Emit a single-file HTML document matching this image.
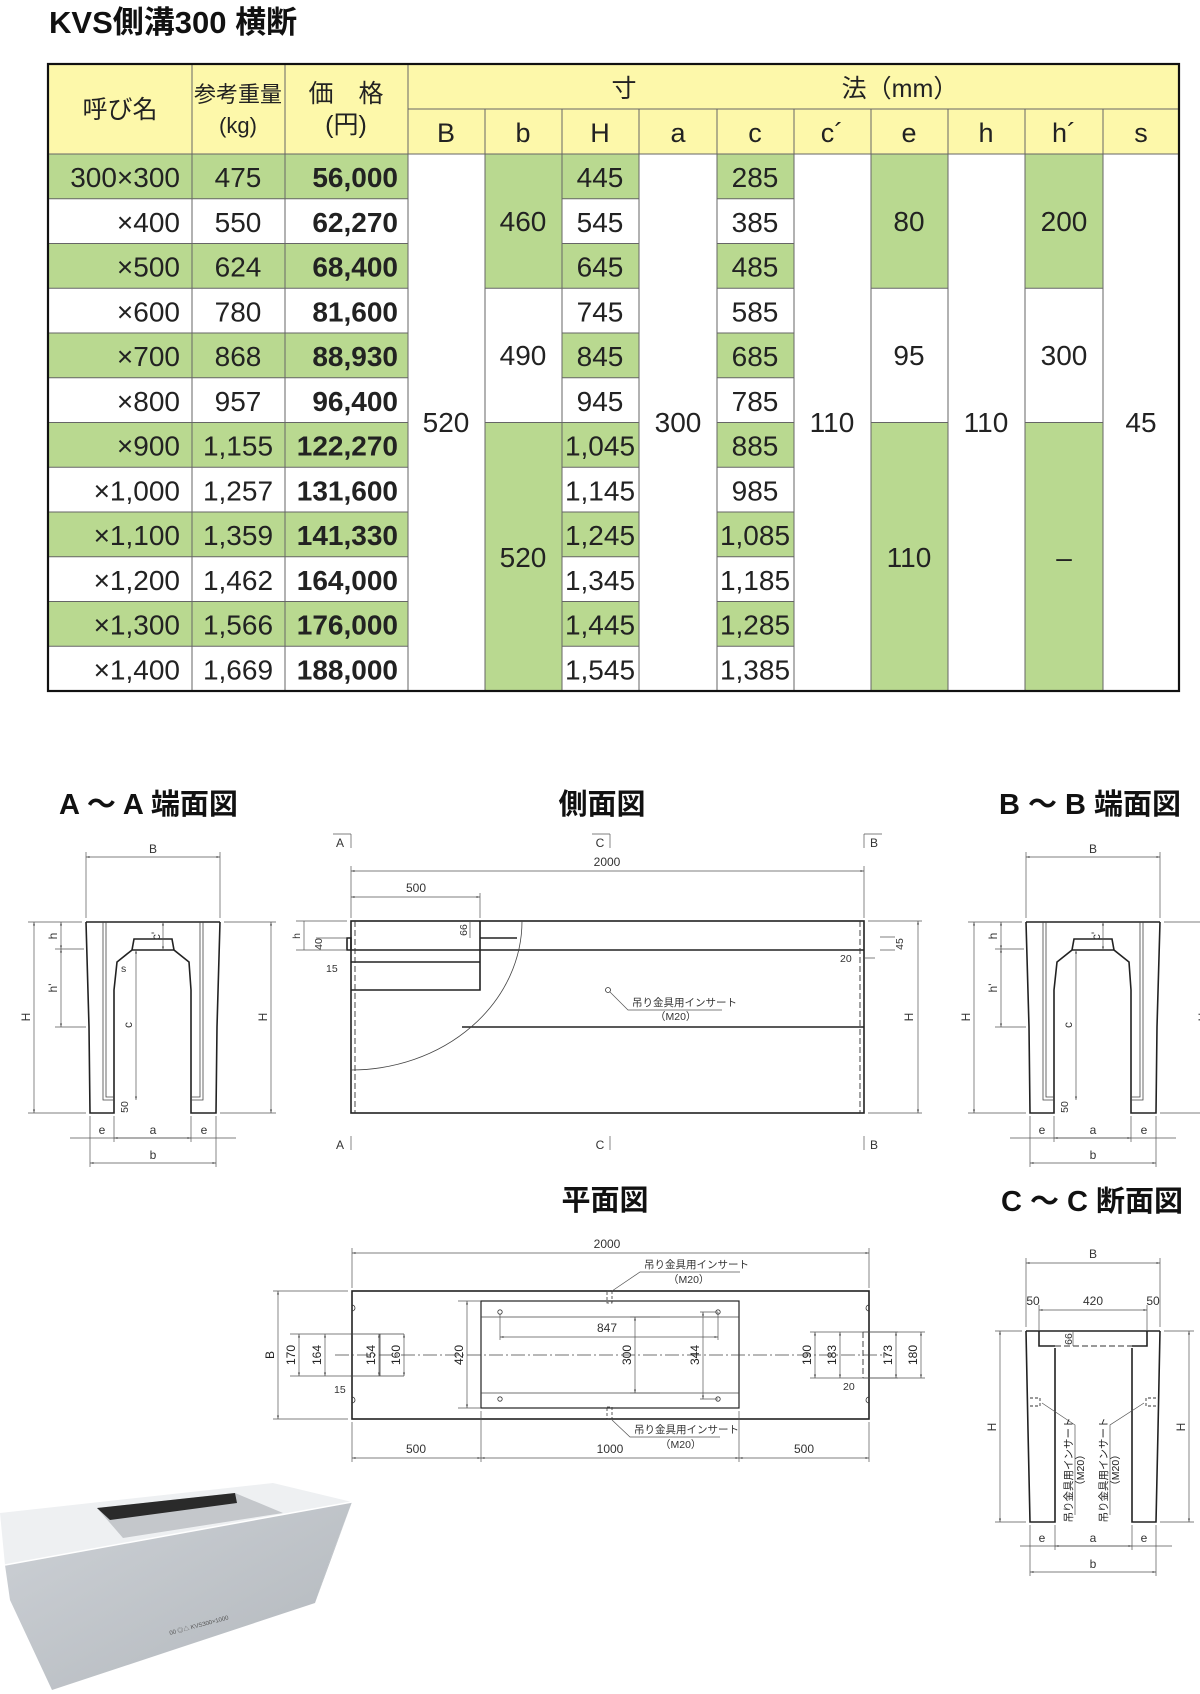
<!DOCTYPE html>
<html><head><meta charset="utf-8"><style>
html,body{margin:0;padding:0;background:#fff;}
svg{display:block;}
text{font-family:"Liberation Sans","Noto Sans CJK JP",sans-serif;fill:#222;}
.t{font-size:28px;}
.tb{font-size:28px;font-weight:bold;fill:#111;}
.h{font-size:22px;}
.ttl{font-size:29px;font-weight:bold;fill:#111;}
.d{font-size:12px;fill:#333;}
.s{font-size:10.5px;fill:#333;}
.ln{stroke:#222;stroke-width:1.6;fill:none;}
.thin{stroke:#444;stroke-width:0.8;fill:none;}
.dim{stroke:#555;stroke-width:0.7;fill:none;}
.dash{stroke:#333;stroke-width:0.9;fill:none;stroke-dasharray:6 3;}
.cl{stroke:#444;stroke-width:0.8;fill:none;stroke-dasharray:14 3 2 3;}
</style></head><body>
<svg width="1200" height="1694" viewBox="0 0 1200 1694" xmlns="http://www.w3.org/2000/svg">
<defs>
<marker id="a" viewBox="0 0 10 10" refX="10" refY="5" markerWidth="7" markerHeight="5" orient="auto-start-reverse"><path d="M0,2 L10,5 L0,8 z" fill="#555"/></marker>
</defs>
<text x="49" y="33" style="font-size:31px;font-weight:bold;fill:#111">KVS側溝300  横断</text>

<!-- TABLE -->
<rect x="48" y="64" width="1131" height="90" fill="#fdf8aa"/>
<g fill="#b9d990">
<rect x="48" y="154" width="360" height="44.75"/><rect x="48" y="243.5" width="360" height="44.75"/><rect x="48" y="333" width="360" height="44.75"/><rect x="48" y="422.5" width="360" height="44.75"/><rect x="48" y="512" width="360" height="44.75"/><rect x="48" y="601.5" width="360" height="44.75"/>
<rect x="562" y="154" width="77" height="44.75"/><rect x="562" y="243.5" width="77" height="44.75"/><rect x="562" y="333" width="77" height="44.75"/><rect x="562" y="422.5" width="77" height="44.75"/><rect x="562" y="512" width="77" height="44.75"/><rect x="562" y="601.5" width="77" height="44.75"/>
<rect x="717" y="154" width="77" height="44.75"/><rect x="717" y="243.5" width="77" height="44.75"/><rect x="717" y="333" width="77" height="44.75"/><rect x="717" y="422.5" width="77" height="44.75"/><rect x="717" y="512" width="77" height="44.75"/><rect x="717" y="601.5" width="77" height="44.75"/>
<rect x="485" y="154" width="77" height="134.25"/><rect x="485" y="422.5" width="77" height="268.5"/>
<rect x="871" y="154" width="77" height="134.25"/><rect x="871" y="422.5" width="77" height="268.5"/>
<rect x="1025" y="154" width="78" height="134.25"/><rect x="1025" y="422.5" width="78" height="268.5"/>
</g>
<g stroke="#666" stroke-width="1">
<line x1="408" y1="109" x2="1179" y2="109"/>
<line x1="48" y1="154" x2="1179" y2="154"/>
<path d="M48 198.75H408M48 243.5H408M48 288.25H408M48 333H408M48 377.75H408M48 422.5H408M48 467.25H408M48 512H408M48 556.75H408M48 601.5H408M48 646.25H408"/>
<path d="M562 198.75H639M562 243.5H639M562 288.25H639M562 333H639M562 377.75H639M562 422.5H639M562 467.25H639M562 512H639M562 556.75H639M562 601.5H639M562 646.25H639"/>
<path d="M717 198.75H794M717 243.5H794M717 288.25H794M717 333H794M717 377.75H794M717 422.5H794M717 467.25H794M717 512H794M717 556.75H794M717 601.5H794M717 646.25H794"/>
<path d="M485 288.25H562M485 422.5H562M871 288.25H948M871 422.5H948M1025 288.25H1103M1025 422.5H1103"/>
<path d="M192 64V691M285 64V691M408 64V691M485 109V691M562 109V691M639 109V691M717 109V691M794 109V691M871 109V691M948 109V691M1025 109V691M1103 109V691"/>
</g>
<rect x="48" y="64" width="1131" height="627" fill="none" stroke="#111" stroke-width="2.2"/>
<text class="h" x="120" y="118" text-anchor="middle" style="font-size:25px">呼び名</text>
<text class="h" x="238" y="102" text-anchor="middle">参考重量</text>
<text class="h" x="238" y="133" text-anchor="middle">(kg)</text>
<text class="h" x="346" y="102" text-anchor="middle" style="font-size:25px">価　格</text>
<text class="h" x="346" y="133" text-anchor="middle" style="font-size:25px">(円)</text>
<text class="h" x="624" y="97" text-anchor="middle" style="font-size:25px">寸</text>
<text class="h" x="900" y="97" text-anchor="middle" style="font-size:25px">法（mm）</text>
<g class="t" text-anchor="middle" style="font-size:27px">
<text x="446" y="142">B</text><text x="523" y="142">b</text><text x="600" y="142">H</text><text x="678" y="142">a</text><text x="755" y="142">c</text><text x="832" y="142">c´</text><text x="909" y="142">e</text><text x="986" y="142">h</text><text x="1064" y="142">h´</text><text x="1141" y="142">s</text>
</g>
<g class="t" text-anchor="end">
<text x="180" y="187">300×300</text><text x="180" y="231.75">×400</text><text x="180" y="276.5">×500</text><text x="180" y="321.25">×600</text><text x="180" y="366">×700</text><text x="180" y="410.75">×800</text><text x="180" y="455.5">×900</text><text x="180" y="500.25">×1,000</text><text x="180" y="545">×1,100</text><text x="180" y="589.75">×1,200</text><text x="180" y="634.5">×1,300</text><text x="180" y="679.25">×1,400</text>
</g>
<g class="t" text-anchor="middle">
<text x="238" y="187">475</text><text x="238" y="231.75">550</text><text x="238" y="276.5">624</text><text x="238" y="321.25">780</text><text x="238" y="366">868</text><text x="238" y="410.75">957</text><text x="238" y="455.5">1,155</text><text x="238" y="500.25">1,257</text><text x="238" y="545">1,359</text><text x="238" y="589.75">1,462</text><text x="238" y="634.5">1,566</text><text x="238" y="679.25">1,669</text>
<text x="600" y="187">445</text><text x="600" y="231.75">545</text><text x="600" y="276.5">645</text><text x="600" y="321.25">745</text><text x="600" y="366">845</text><text x="600" y="410.75">945</text><text x="600" y="455.5">1,045</text><text x="600" y="500.25">1,145</text><text x="600" y="545">1,245</text><text x="600" y="589.75">1,345</text><text x="600" y="634.5">1,445</text><text x="600" y="679.25">1,545</text>
<text x="755" y="187">285</text><text x="755" y="231.75">385</text><text x="755" y="276.5">485</text><text x="755" y="321.25">585</text><text x="755" y="366">685</text><text x="755" y="410.75">785</text><text x="755" y="455.5">885</text><text x="755" y="500.25">985</text><text x="755" y="545">1,085</text><text x="755" y="589.75">1,185</text><text x="755" y="634.5">1,285</text><text x="755" y="679.25">1,385</text>
<text x="446" y="432">520</text><text x="678" y="432">300</text><text x="832" y="432">110</text><text x="986" y="432">110</text><text x="1141" y="432">45</text>
<text x="523" y="231">460</text><text x="523" y="365">490</text><text x="523" y="567">520</text>
<text x="909" y="231">80</text><text x="909" y="365">95</text><text x="909" y="567">110</text>
<text x="1064" y="231">200</text><text x="1064" y="365">300</text><text x="1064" y="567">–</text>
</g>
<g class="tb" text-anchor="end">
<text x="398" y="187">56,000</text><text x="398" y="231.75">62,270</text><text x="398" y="276.5">68,400</text><text x="398" y="321.25">81,600</text><text x="398" y="366">88,930</text><text x="398" y="410.75">96,400</text><text x="398" y="455.5">122,270</text><text x="398" y="500.25">131,600</text><text x="398" y="545">141,330</text><text x="398" y="589.75">164,000</text><text x="398" y="634.5">176,000</text><text x="398" y="679.25">188,000</text>
</g>

<!-- TITLES -->
<text class="ttl" x="59" y="814">A ～ A 端面図</text>
<text class="ttl" x="602" y="814" text-anchor="middle">側面図</text>
<text class="ttl" x="999" y="814">B ～ B 端面図</text>
<text class="ttl" x="605" y="1210" text-anchor="middle">平面図</text>
<text class="ttl" x="1001" y="1211">C ～ C 断面図</text>

<!-- A-A END VIEW -->
<g>
<path class="ln" d="M86 922H220M86 922L89 1027L90 1113H114V990L117 962L132 950L134 939H172L174 950L189 962L191 990V1113H216L217 1027L220 922M132 950H174"/>
<path class="thin" d="M103 922V1100H114M106 922V1097H114M203 922V1100H191M200 922V1097H191"/>
<path class="dim" d="M86 852V918M220 852V918M28 922H82M224 922H276M28 1113H86M220 1113H276M55 949H84M55 1027H86M90 1116V1142M114 1116V1142M191 1116V1142M216 1116V1167M90 1142V1167"/>
<line class="dim" x1="86" y1="857" x2="220" y2="857" marker-start="url(#a)" marker-end="url(#a)"/>
<line class="dim" x1="34" y1="922" x2="34" y2="1113" marker-start="url(#a)" marker-end="url(#a)"/>
<line class="dim" x1="271" y1="922" x2="271" y2="1113" marker-start="url(#a)" marker-end="url(#a)"/>
<line class="dim" x1="61" y1="922" x2="61" y2="949" marker-start="url(#a)" marker-end="url(#a)"/>
<line class="dim" x1="61" y1="949" x2="61" y2="1027" marker-start="url(#a)" marker-end="url(#a)"/>
<line class="dim" x1="136" y1="950" x2="136" y2="1100" marker-start="url(#a)" marker-end="url(#a)"/>
<line class="dim" x1="163" y1="922" x2="163" y2="950" marker-start="url(#a)" marker-end="url(#a)"/>
<path class="dim" d="M70 1138H236"/>
<line class="dim" x1="114" y1="1138" x2="191" y2="1138" marker-start="url(#a)" marker-end="url(#a)"/>
<line class="dim" x1="90" y1="1163" x2="216" y2="1163" marker-start="url(#a)" marker-end="url(#a)"/>
<text class="d" x="153" y="853" text-anchor="middle">B</text>
<text class="d" transform="translate(30 1017) rotate(-90)" text-anchor="middle">H</text>
<text class="d" transform="translate(267 1017) rotate(-90)" text-anchor="middle">H</text>
<text class="d" transform="translate(57 936) rotate(-90)" text-anchor="middle">h</text>
<text class="d" transform="translate(57 988) rotate(-90)" text-anchor="middle">h'</text>
<text class="d" transform="translate(132 1025) rotate(-90)" text-anchor="middle">c</text>
<text class="d" transform="translate(160 936) rotate(-90)" text-anchor="middle">c'</text>
<text class="s" x="121" y="972">s</text>
<text class="s" transform="translate(128 1107) rotate(-90)" text-anchor="middle">50</text>
<text class="d" x="102" y="1134" text-anchor="middle">e</text><text class="d" x="153" y="1134" text-anchor="middle">a</text><text class="d" x="204" y="1134" text-anchor="middle">e</text>
<text class="d" x="153" y="1159" text-anchor="middle">b</text>
</g>
<!-- B-B -->
<g transform="translate(940 0)">
<path class="ln" d="M86 922H220M86 922L89 1027L90 1113H114V990L117 962L132 950L134 939H172L174 950L189 962L191 990V1113H216L217 1027L220 922M132 950H174"/>
<path class="thin" d="M103 922V1100H114M106 922V1097H114M203 922V1100H191M200 922V1097H191"/>
<path class="dim" d="M86 852V918M220 852V918M28 922H82M224 922H276M28 1113H86M220 1113H276M55 949H84M55 1027H86M90 1116V1142M114 1116V1142M191 1116V1142M216 1116V1167M90 1142V1167"/>
<line class="dim" x1="86" y1="857" x2="220" y2="857" marker-start="url(#a)" marker-end="url(#a)"/>
<line class="dim" x1="34" y1="922" x2="34" y2="1113" marker-start="url(#a)" marker-end="url(#a)"/>
<line class="dim" x1="271" y1="922" x2="271" y2="1113" marker-start="url(#a)" marker-end="url(#a)"/>
<line class="dim" x1="61" y1="922" x2="61" y2="949" marker-start="url(#a)" marker-end="url(#a)"/>
<line class="dim" x1="61" y1="949" x2="61" y2="1027" marker-start="url(#a)" marker-end="url(#a)"/>
<line class="dim" x1="136" y1="950" x2="136" y2="1100" marker-start="url(#a)" marker-end="url(#a)"/>
<line class="dim" x1="163" y1="922" x2="163" y2="950" marker-start="url(#a)" marker-end="url(#a)"/>
<path class="dim" d="M70 1138H236"/>
<line class="dim" x1="114" y1="1138" x2="191" y2="1138" marker-start="url(#a)" marker-end="url(#a)"/>
<line class="dim" x1="90" y1="1163" x2="216" y2="1163" marker-start="url(#a)" marker-end="url(#a)"/>
<text class="d" x="153" y="853" text-anchor="middle">B</text>
<text class="d" transform="translate(30 1017) rotate(-90)" text-anchor="middle">H</text>
<text class="d" transform="translate(267 1017) rotate(-90)" text-anchor="middle">H</text>
<text class="d" transform="translate(57 936) rotate(-90)" text-anchor="middle">h</text>
<text class="d" transform="translate(57 988) rotate(-90)" text-anchor="middle">h'</text>
<text class="d" transform="translate(132 1025) rotate(-90)" text-anchor="middle">c</text>
<text class="d" transform="translate(160 936) rotate(-90)" text-anchor="middle">c'</text>
<text class="s" transform="translate(128 1107) rotate(-90)" text-anchor="middle">50</text>
<text class="d" x="102" y="1134" text-anchor="middle">e</text><text class="d" x="153" y="1134" text-anchor="middle">a</text><text class="d" x="204" y="1134" text-anchor="middle">e</text>
<text class="d" x="153" y="1159" text-anchor="middle">b</text>
</g>

<!-- SIDE VIEW -->
<rect class="ln" x="351" y="921" width="513" height="192"/>
<path class="ln" d="M351 950H864M351 990H480V921M351 962H480M480 938H517M462 1027H864M347 938H351V950H347Z"/>
<path class="thin" d="M522 921A171 149 0 0 1 351 1070"/>
<path class="dash" d="M355 921V1113M860 921V1113"/>
<path class="dim" d="M351 834V848M333 834H351M610 834V848M592 834H610M864 834V848M864 834H882M351 1136V1150M610 1136V1150M864 1136V1150"/>
<text class="d" x="340" y="847" text-anchor="middle">A</text><text class="d" x="600" y="847" text-anchor="middle">C</text><text class="d" x="874" y="847" text-anchor="middle">B</text>
<text class="d" x="340" y="1149" text-anchor="middle">A</text><text class="d" x="600" y="1149" text-anchor="middle">C</text><text class="d" x="874" y="1149" text-anchor="middle">B</text>
<path class="dim" d="M351 866V918M864 866V918M480 893V918M868 921H922M868 1113H922M296 921H347M296 950H347M316 938H347M880 937H895M880 950H895M864 958H875"/>
<line class="dim" x1="351" y1="871" x2="864" y2="871" marker-start="url(#a)" marker-end="url(#a)"/>
<line class="dim" x1="351" y1="897" x2="480" y2="897" marker-start="url(#a)" marker-end="url(#a)"/>
<line class="dim" x1="918" y1="921" x2="918" y2="1113" marker-start="url(#a)" marker-end="url(#a)"/>
<line class="dim" x1="304" y1="921" x2="304" y2="950"/>
<line class="dim" x1="470" y1="921" x2="470" y2="938"/>
<text class="d" x="607" y="866" text-anchor="middle">2000</text>
<text class="d" x="416" y="892" text-anchor="middle">500</text>
<text class="d" transform="translate(913 1017) rotate(-90)" text-anchor="middle">H</text>
<text class="s" transform="translate(467 930) rotate(-90)" text-anchor="middle">66</text>
<text class="s" transform="translate(300 936) rotate(-90)" text-anchor="middle">h</text>
<text class="s" transform="translate(322 944) rotate(-90)" text-anchor="middle">40</text>
<text class="s" x="326" y="972">15</text>
<text class="s" transform="translate(903 944) rotate(-90)" text-anchor="middle">45</text>
<text class="s" x="840" y="962">20</text>
<circle cx="608" cy="990" r="2.5" fill="none" stroke="#333" stroke-width="0.8"/>
<path class="dim" d="M610 992L628 1010H722"/>
<text class="s" x="632" y="1006">吊り金具用インサート</text>
<text class="s" x="655" y="1020">（M20）</text>

<!-- PLAN VIEW -->
<rect class="ln" x="352" y="1291" width="517" height="128"/>
<rect class="ln" x="481" y="1301" width="258" height="107" style="stroke-width:1.2"/>
<path class="thin" d="M481 1317H739M481 1393H739M350 1334H380V1376H350M380 1334H404M380 1376H404M898 1332H863M898 1378H863"/>
<path class="dash" d="M863 1332V1378"/>
<path class="cl" d="M335 1355H890"/>
<g fill="none" stroke="#333" stroke-width="0.8">
<circle cx="500" cy="1312" r="2.2"/><circle cx="718" cy="1312" r="2.2"/><circle cx="500" cy="1399" r="2.2"/><circle cx="718" cy="1399" r="2.2"/>
<path d="M352 1305A3 3 0 0 1 352 1311M352 1397A3 3 0 0 1 352 1403M869 1305A3 3 0 0 0 869 1311M869 1397A3 3 0 0 0 869 1403"/>
<rect x="607" y="1291" width="5" height="12" stroke-dasharray="3 2"/><rect x="607" y="1407" width="5" height="12" stroke-dasharray="3 2"/>
</g>
<path class="dim" d="M352 1248V1288M869 1248V1288M273 1291H348M273 1419H348M352 1422V1462M481 1411V1462M739 1411V1462M869 1422V1462M290 1334H350M290 1376H350M458 1301H481M458 1408H481M500 1314V1340M718 1312V1340M630 1317H660M630 1393H660M700 1312H718M700 1399H718M810 1332H925M810 1378H925"/>
<line class="dim" x1="352" y1="1253" x2="869" y2="1253" marker-start="url(#a)" marker-end="url(#a)"/>
<line class="dim" x1="278" y1="1291" x2="278" y2="1419" marker-start="url(#a)" marker-end="url(#a)"/>
<line class="dim" x1="352" y1="1458" x2="481" y2="1458" marker-start="url(#a)" marker-end="url(#a)"/>
<line class="dim" x1="481" y1="1458" x2="739" y2="1458" marker-start="url(#a)" marker-end="url(#a)"/>
<line class="dim" x1="739" y1="1458" x2="869" y2="1458" marker-start="url(#a)" marker-end="url(#a)"/>
<line class="dim" x1="467" y1="1301" x2="467" y2="1408" marker-start="url(#a)" marker-end="url(#a)"/>
<line class="dim" x1="500" y1="1337" x2="718" y2="1337" marker-start="url(#a)" marker-end="url(#a)"/>
<line class="dim" x1="635" y1="1317" x2="635" y2="1393" marker-start="url(#a)" marker-end="url(#a)"/>
<line class="dim" x1="703" y1="1312" x2="703" y2="1399" marker-start="url(#a)" marker-end="url(#a)"/>
<g class="dim">
<line x1="299" y1="1334" x2="299" y2="1376" marker-start="url(#a)" marker-end="url(#a)"/>
<line x1="325" y1="1334" x2="325" y2="1376" marker-start="url(#a)" marker-end="url(#a)"/>
<line x1="379" y1="1334" x2="379" y2="1376" marker-start="url(#a)" marker-end="url(#a)"/>
<line x1="404" y1="1334" x2="404" y2="1376" marker-start="url(#a)" marker-end="url(#a)"/>
<line x1="815" y1="1332" x2="815" y2="1378" marker-start="url(#a)" marker-end="url(#a)"/>
<line x1="840" y1="1332" x2="840" y2="1378" marker-start="url(#a)" marker-end="url(#a)"/>
<line x1="896" y1="1332" x2="896" y2="1378" marker-start="url(#a)" marker-end="url(#a)"/>
<line x1="921" y1="1332" x2="921" y2="1378" marker-start="url(#a)" marker-end="url(#a)"/>
</g>
<text class="d" x="607" y="1248" text-anchor="middle">2000</text>
<text class="d" x="416" y="1453" text-anchor="middle">500</text>
<text class="d" x="610" y="1453" text-anchor="middle">1000</text>
<text class="d" x="804" y="1453" text-anchor="middle">500</text>
<text class="d" x="607" y="1332" text-anchor="middle">847</text>
<g class="d" text-anchor="middle">
<text transform="translate(274 1355) rotate(-90)">B</text>
<text transform="translate(295 1355) rotate(-90)">170</text>
<text transform="translate(321 1355) rotate(-90)">164</text>
<text transform="translate(375 1355) rotate(-90)">154</text>
<text transform="translate(400 1355) rotate(-90)">160</text>
<text transform="translate(463 1355) rotate(-90)">420</text>
<text transform="translate(631 1355) rotate(-90)">300</text>
<text transform="translate(699 1355) rotate(-90)">344</text>
<text transform="translate(811 1355) rotate(-90)">190</text>
<text transform="translate(836 1355) rotate(-90)">183</text>
<text transform="translate(892 1355) rotate(-90)">173</text>
<text transform="translate(917 1355) rotate(-90)">180</text>
</g>
<text class="s" x="334" y="1393">15</text>
<text class="s" x="843" y="1390">20</text>
<path class="dim" d="M612 1291L640 1272H740M612 1420L630 1437H720"/>
<text class="s" x="644" y="1268">吊り金具用インサート</text>
<text class="s" x="668" y="1283">（M20）</text>
<text class="s" x="634" y="1433">吊り金具用インサート</text>
<text class="s" x="660" y="1448">（M20）</text>

<!-- C-C SECTION -->
<path class="ln" d="M1026 1331H1160M1026 1331L1028 1430L1030 1522H1055V1348M1160 1331L1158 1430L1156 1522H1132V1348M1039 1331V1346H1055M1147 1331V1346H1132"/>
<path class="dash" d="M1055 1346H1132"/>
<path class="dim" d="M1026 1258V1327M1160 1258V1327M1039 1305V1331M1147 1305V1331M995 1331H1022M1164 1331H1194M995 1522H1026M1160 1522H1194M1030 1525V1576M1055 1525V1550M1132 1525V1550M1156 1525V1576M1073 1331V1346M1020 1546H1172"/>
<line class="dim" x1="1026" y1="1263" x2="1160" y2="1263" marker-start="url(#a)" marker-end="url(#a)"/>
<line class="dim" x1="1039" y1="1310" x2="1147" y2="1310" marker-start="url(#a)" marker-end="url(#a)"/>
<line class="dim" x1="1000" y1="1331" x2="1000" y2="1522" marker-start="url(#a)" marker-end="url(#a)"/>
<line class="dim" x1="1189" y1="1331" x2="1189" y2="1522" marker-start="url(#a)" marker-end="url(#a)"/>
<line class="dim" x1="1055" y1="1546" x2="1132" y2="1546" marker-start="url(#a)" marker-end="url(#a)"/>
<line class="dim" x1="1030" y1="1572" x2="1156" y2="1572" marker-start="url(#a)" marker-end="url(#a)"/>
<path class="dash" d="M1030 1398H1040V1406H1030M1156 1398H1146V1406H1156" style="stroke-dasharray:3 2"/>
<path class="dim" d="M1042 1403L1075 1425V1515M1144 1403L1110 1425V1515"/>
<text class="d" x="1093" y="1258" text-anchor="middle">B</text>
<text class="d" x="1033" y="1305" text-anchor="middle">50</text>
<text class="d" x="1093" y="1305" text-anchor="middle">420</text>
<text class="d" x="1153" y="1305" text-anchor="middle">50</text>
<text class="s" transform="translate(1072 1339) rotate(-90)" text-anchor="middle">66</text>
<text class="d" transform="translate(996 1427) rotate(-90)" text-anchor="middle">H</text>
<text class="d" transform="translate(1185 1427) rotate(-90)" text-anchor="middle">H</text>
<text class="d" x="1042" y="1542" text-anchor="middle">e</text><text class="d" x="1093" y="1542" text-anchor="middle">a</text><text class="d" x="1144" y="1542" text-anchor="middle">e</text>
<text class="d" x="1093" y="1568" text-anchor="middle">b</text>
<g class="s" text-anchor="middle">
<text transform="translate(1072 1470) rotate(-90)">吊り金具用インサート</text>
<text transform="translate(1084 1470) rotate(-90)">（M20）</text>
<text transform="translate(1107 1470) rotate(-90)">吊り金具用インサート</text>
<text transform="translate(1119 1470) rotate(-90)">（M20）</text>
</g>

<!-- PHOTO -->
<defs>
<linearGradient id="fr" x1="0" y1="0" x2="1" y2="1"><stop offset="0" stop-color="#cdd1d6"/><stop offset="1" stop-color="#b2b7bc"/></linearGradient>
<linearGradient id="sd" x1="0" y1="0" x2="0" y2="1"><stop offset="0" stop-color="#c7cbd0"/><stop offset="1" stop-color="#a9aeb3"/></linearGradient>
</defs>
<polygon points="352,1502 315,1603 330,1560" fill="url(#sd)"/>
<polygon points="5,1565 352,1502 330,1560 315,1603 52,1690 10,1600" fill="url(#fr)"/>
<polygon points="0,1513 273,1483 352,1502 5,1565" fill="#eef0f2"/>
<polygon points="97,1508 235,1493 283,1513 123,1538" fill="#c4c7cb"/>
<polygon points="97,1508 235,1493 237,1503 110,1520" fill="#2a2a2a"/>
<line x1="5" y1="1565" x2="352" y2="1502" stroke="#fff" stroke-width="1.5"/>
<text x="170" y="1635" style="font-size:6px;fill:#555" transform="rotate(-15 170 1635)">00 ◎△ KVS300×1000</text>
</svg>
</body></html>
